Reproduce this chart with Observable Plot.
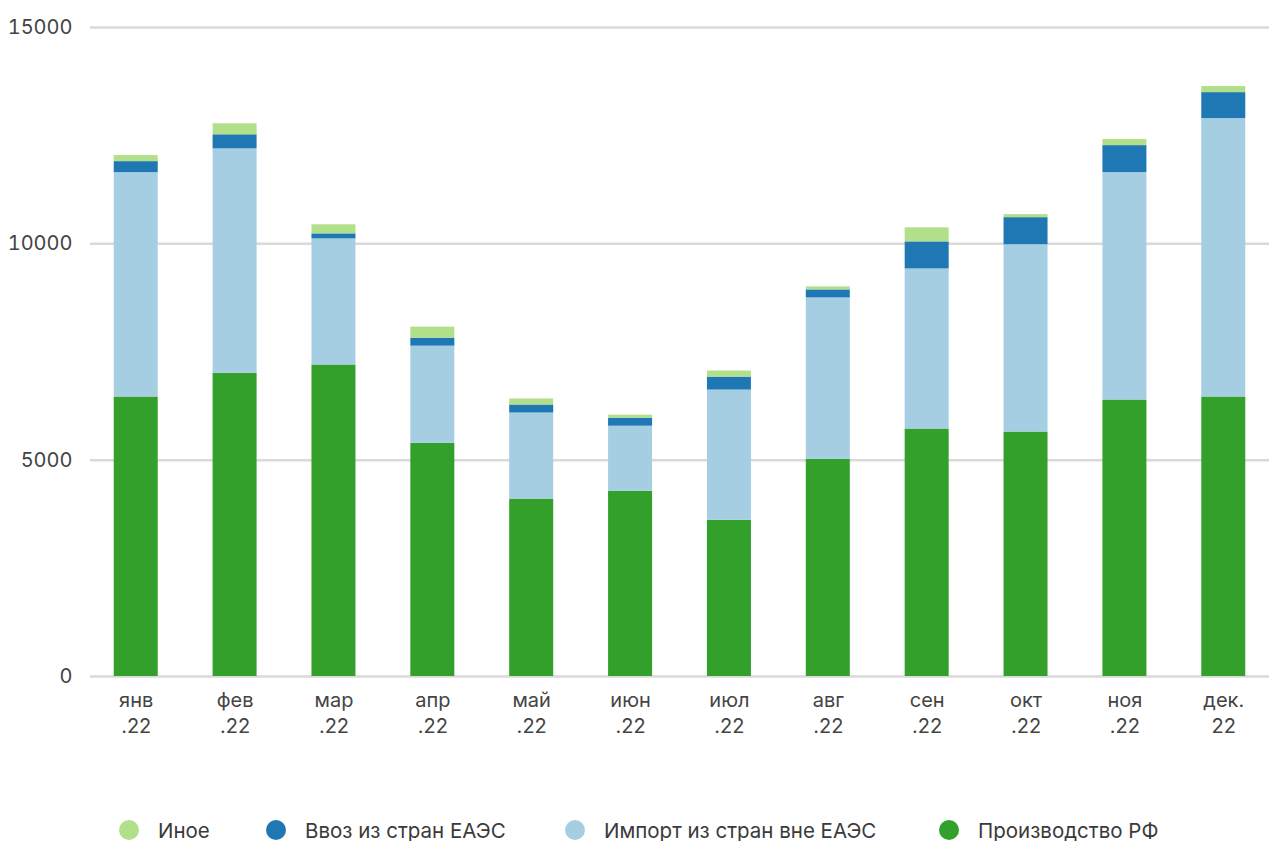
<!DOCTYPE html>
<html>
<head>
<meta charset="utf-8">
<script src="https://cdn.jsdelivr.net/npm/d3@7"></script>
<script src="https://cdn.jsdelivr.net/npm/@observablehq/plot@0.6"></script>
<style>
  html, body { margin: 0; padding: 0; background: #fff; font-family: Inter, "Noto Sans", sans-serif; }
  #wrap { position: relative; width: 1269px; height: 841px; }
  .leg { position: absolute; top: 820px; height: 20px; display: flex; align-items: center; font-size: 20.5px; color: #3a3a3a; white-space: nowrap; }
  .leg i { display: inline-block; width: 20px; height: 20px; border-radius: 50%; margin-right: 19px; }
</style>
</head>
<body>
<div id="wrap"></div>
<script>
const months = ["янв","фев","мар","апр","май","июн","июл","авг","сен","окт","ноя","дек"];
const tickLabels = ["янв\n.22","фев\n.22","мар\n.22","апр\n.22","май\n.22","июн\n.22","июл\n.22","авг\n.22","сен\n.22","окт\n.22","ноя\n.22","дек.\n22"];
const seriesNames = ["Производство РФ","Импорт из стран вне ЕАЭС","Ввоз из стран ЕАЭС","Иное"];
const seriesColors = ["#33a02c","#a6cee3","#1f78b4","#b2df8a"];
const production = [6460, 7010, 7200, 5390, 4100, 4280, 3610, 5020, 5720, 5650, 6390, 6460];
const importNonEAEU = [5185, 5185, 2915, 2245, 1990, 1505, 3010, 3730, 3700, 4330, 5255, 6435];
const eaeu = [255, 325, 115, 185, 185, 185, 300, 185, 625, 625, 625, 600];
const other = [140, 255, 210, 255, 140, 70, 140, 70, 325, 70, 140, 140];
const yTicks = [0, 5000, 10000, 15000];

const seriesValues = [production, importNonEAEU, eaeu, other];
const data = [];
seriesNames.forEach((s, si) => months.forEach((m, i) => data.push({month: m, series: s, value: seriesValues[si][i]})));

const chart = Plot.plot({
  width: 1269,
  height: 760,
  marginTop: 27,
  marginBottom: 84,
  marginLeft: 90,
  marginRight: 0,
  style: {fontFamily: "Inter, 'Noto Sans', sans-serif", color: "#444", background: "#fff"},
  x: {domain: months, paddingInner: 0.555, paddingOuter: 0.24, round: false},
  y: {domain: [0, 15000]},
  color: {domain: seriesNames, range: seriesColors},
  marks: [
    Plot.gridY(yTicks, {stroke: "#d9d9d9", strokeOpacity: 1, strokeWidth: 2.5}),
    Plot.axisY(yTicks, {tickSize: 0, tickPadding: 18, fontSize: 20, label: null, tickFormat: d => String(d)}),
    Plot.axisX({tickSize: 0, tickPadding: 12, fontSize: 20, lineHeight: 1.3, label: null,
                tickFormat: d => tickLabels[months.indexOf(d)]}),
    Plot.barY(data, {x: "month", y: "value", fill: "series", z: "series"})
  ]
});
const wrap = document.getElementById("wrap");
wrap.appendChild(chart);

const legendLeft = [119, 266, 565, 939];
const legendOrder = [3, 2, 1, 0];
legendOrder.forEach((si, k) => {
  const d = document.createElement("div");
  d.className = "leg";
  d.style.left = legendLeft[k] + "px";
  d.innerHTML = `<i style="background:${seriesColors[si]}"></i><span>${seriesNames[si]}</span>`;
  wrap.appendChild(d);
});
</script>
</body>
</html>
